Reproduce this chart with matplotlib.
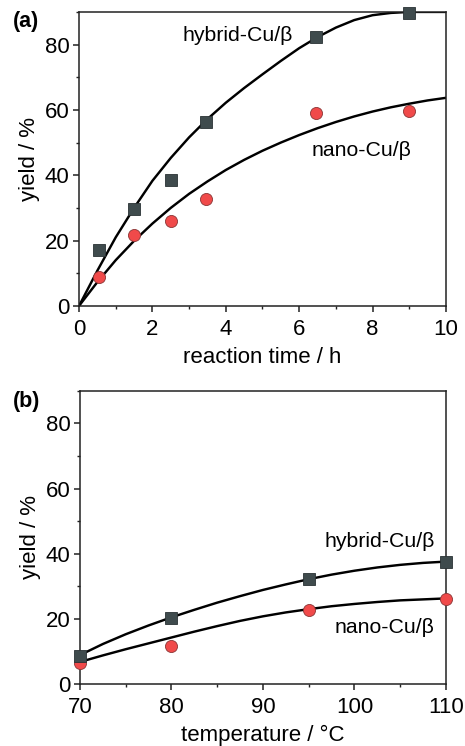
import numpy as np
import matplotlib.pyplot as plt

plt.rcParams['font.family'] = ['Liberation Sans', 'DejaVu Sans']
plt.rcParams['font.size'] = 16

# (a) yield vs reaction time
time_h = [0.55, 1.5, 2.5, 3.45, 6.45, 9.0]
hybrid_time = [17.0, 29.7, 38.6, 56.4, 82.2, 89.7]
nano_time = [8.8, 21.8, 26.1, 32.7, 59.0, 59.7]

# fitted curves
fit_t = [0, 0.5, 1, 1.5, 2, 2.5, 3, 3.5, 4, 4.5, 5, 5.5, 6, 6.5, 7, 7.5, 8, 8.5, 9, 9.5, 10]
fit_hybrid_t = [0, 10.8, 21, 30, 38.3, 45.3, 51.6, 57.2, 62.2, 66.7, 70.9, 75.0, 78.9, 82.3,
                85.2, 87.5, 89.0, 89.7, 90, 90, 90]
fit_nano_t = [0, 7.3, 14.0, 19.9, 25.2, 30.0, 34.3, 38.1, 41.6, 44.7, 47.5, 50.0, 52.3, 54.4,
              56.3, 58.0, 59.5, 60.8, 61.9, 62.9, 63.7]

# (b) yield vs temperature
temp_c = [70, 80, 95, 110]
hybrid_temp = [8.7, 20.4, 32.3, 37.6]
nano_temp = [6.4, 11.7, 22.8, 26.0]

fit_T = [70, 72.5, 75, 77.5, 80, 82.5, 85, 87.5, 90, 92.5, 95, 97.5, 100, 102.5, 105, 107.5, 110]
fit_hybrid_T = [8.9, 12.3, 15.3, 18.0, 20.5, 22.8, 25.0, 27.0, 28.9, 30.6, 32.2, 33.6, 34.8,
                35.8, 36.6, 37.2, 37.6]
fit_nano_T = [6.8, 8.8, 10.7, 12.5, 14.3, 16.1, 17.8, 19.4, 20.8, 22.0, 23.0, 23.9, 24.6,
              25.2, 25.7, 26.0, 26.3]

sq_face = '#3f4b4d'
sq_edge = '#2a3234'
ci_face = '#f04a4a'
ci_edge = '#8a3535'

fig = plt.figure(figsize=(4.65, 7.46), dpi=100)
ax1 = fig.add_axes([0.170, 0.590, 0.789, 0.394])
ax2 = fig.add_axes([0.172, 0.083, 0.787, 0.393])


def style(ax):
    for s in ax.spines.values():
        s.set_linewidth(1.1)
        s.set_color('#222222')
    ax.tick_params(which='major', length=4, width=1.1, pad=3, color='#222222')
    ax.tick_params(which='minor', length=2.5, width=1.0, color='#222222')
    ax.tick_params(axis='x', which='major', pad=5.5)
    ax.set_ylim(0, 90)
    ax.set_yticks([0, 20, 40, 60, 80])
    ax.set_yticks([10, 30, 50, 70, 90], minor=True)
    ax.set_ylabel('yield / %', labelpad=3)


ax1.plot(fit_t, fit_hybrid_t, color='black', lw=1.75, zorder=2)
ax1.plot(fit_t, fit_nano_t, color='black', lw=1.75, zorder=2)
ax1.plot(time_h, nano_time, 'o', ms=8.7, mfc=ci_face, mec=ci_edge, mew=0.6, zorder=3, clip_on=False)
ax1.plot(time_h, hybrid_time, 's', ms=9.0, mfc=sq_face, mec=sq_edge, mew=0.6, zorder=4, clip_on=False)
style(ax1)
ax1.set_xlim(0, 10)
ax1.set_xticks([0, 2, 4, 6, 8, 10])
ax1.set_xticks([1, 3, 5, 7, 9], minor=True)
ax1.set_xlabel('reaction time / h', labelpad=5)
ax1.text(4.33, 82.9, 'hybrid-Cu/β', ha='center', va='center', fontsize=15.3)
ax1.text(7.71, 47.5, 'nano-Cu/β', ha='center', va='center', fontsize=15.3)

ax2.plot(fit_T, fit_hybrid_T, color='black', lw=1.75, zorder=2)
ax2.plot(fit_T, fit_nano_T, color='black', lw=1.75, zorder=2)
ax2.plot(temp_c, nano_temp, 'o', ms=8.7, mfc=ci_face, mec=ci_edge, mew=0.6, zorder=3, clip_on=False)
ax2.plot(temp_c, hybrid_temp, 's', ms=9.0, mfc=sq_face, mec=sq_edge, mew=0.6, zorder=4, clip_on=False)
style(ax2)
ax2.set_xlim(70, 110)
ax2.set_xticks([70, 80, 90, 100, 110])
ax2.set_xticks([75, 85, 95, 105], minor=True)
ax2.set_xlabel('temperature / °C', labelpad=5)
ax2.text(102.8, 43.8, 'hybrid-Cu/β', ha='center', va='center', fontsize=15.3)
ax2.text(103.3, 17.4, 'nano-Cu/β', ha='center', va='center', fontsize=15.3)

fig.text(0.055, 0.971, '(a)', fontweight='bold', ha='center', va='center', fontsize=15.5)
fig.text(0.057, 0.462, '(b)', fontweight='bold', ha='center', va='center', fontsize=15.5)

fig.savefig('out.png', dpi=100)
